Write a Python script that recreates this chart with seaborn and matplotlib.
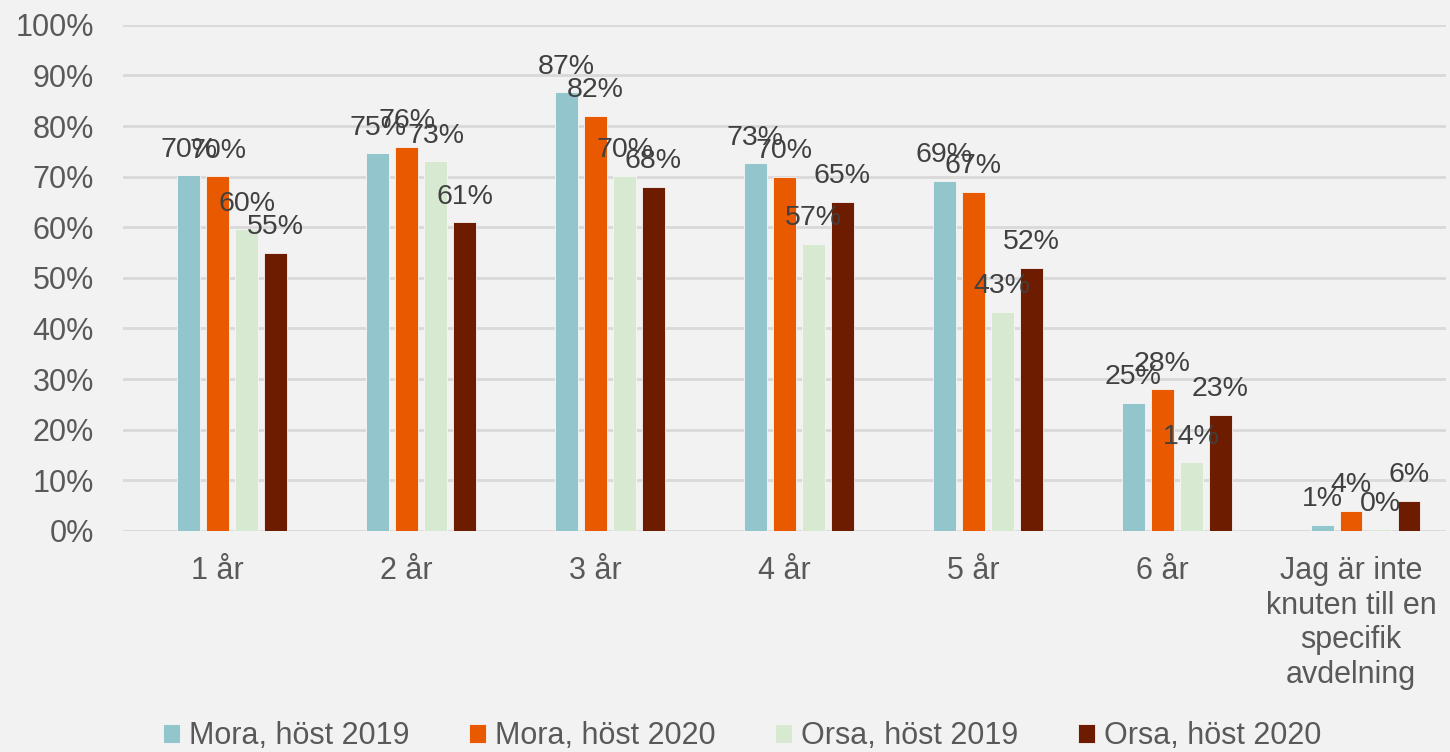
import pandas as pd
import matplotlib.pyplot as plt
import seaborn as sns

# Data (percent)
categories = ["1 år", "2 år", "3 år", "4 år", "5 år", "6 år",
              "Jag är inte\nknuten till en\nspecifik\navdelning"]
series = ["Mora, höst 2019", "Mora, höst 2020", "Orsa, höst 2019", "Orsa, höst 2020"]
mora_2019 = [70.3, 74.6, 86.7, 72.6, 69.2, 25.3, 1.2]
mora_2020 = [70.1, 75.9, 82.0, 70.0, 67.0, 28.0, 4.0]
orsa_2019 = [59.6, 73.0, 70.2, 56.7, 43.3, 13.6, 0.3]
orsa_2020 = [55.0, 61.0, 68.0, 65.0, 52.0, 23.0, 6.0]
colors = ["#92c6cc", "#e95a00", "#d7e9d0", "#6e1c00"]

# the original chart keeps an empty first series slot in every group
blank = " "

df = pd.DataFrame({
    "kategori": categories * 4,
    "serie": [s for s in series for _ in categories],
    "andel": mora_2019 + mora_2020 + orsa_2019 + orsa_2020,
})

sns.set_theme(style="white")
plt.rcParams["font.family"] = ["Liberation Sans", "DejaVu Sans"]
bg = "#f2f2f2"

fig = plt.figure(figsize=(14.5, 7.52), dpi=100, facecolor=bg)
ax = fig.add_axes([0.085, 0.294, 0.912, 0.673])
ax.set_facecolor(bg)

palette = dict(zip([blank] + series, [bg] + colors))
sns.barplot(data=df, x="kategori", y="andel", hue="serie",
            hue_order=[blank] + series, palette=palette, saturation=1,
            width=0.767, gap=0.22, ax=ax, edgecolor="#f6f6f6", linewidth=0.6,
            legend=True)

# data labels (one container per plotted series, in hue order)
for cont, vals in zip(ax.containers[-4:], [mora_2019, mora_2020, orsa_2019, orsa_2020]):
    ax.bar_label(cont, labels=[f"{round(v)}%" for v in vals], padding=9,
                 fontsize=20.5, color="#404040")

ax.set_ylim(0, 100)
ax.set_yticks(range(0, 101, 10))
ax.set_yticklabels([f"{t}%" for t in range(0, 101, 10)])
ax.set_xlim(-0.5, len(categories) - 0.5)
ax.yaxis.grid(True, color="#d9d9d9", linewidth=2)
ax.set_axisbelow(True)
for s in ax.spines.values():
    s.set_visible(False)
ax.tick_params(axis="y", length=0, pad=21, labelsize=22, labelcolor="#595959")
ax.tick_params(axis="x", length=0, pad=18, labelsize=22, labelcolor="#595959")
ax.set_xlabel("")
ax.set_ylabel("")

ax.get_legend().remove()
handles, labels = ax.get_legend_handles_labels()
keep = [(h, l) for h, l in zip(handles, labels) if l in series]
fig.legend([h for h, _ in keep], [l for _, l in keep], loc="center",
           bbox_to_anchor=(0.512, 0.021), ncol=4,
           frameon=False, fontsize=22, labelcolor="#595959",
           handlelength=0.55, handleheight=0.55, handletextpad=0.3,
           columnspacing=1.95, borderpad=0)

fig.savefig("out.png", dpi=100, facecolor=bg)
